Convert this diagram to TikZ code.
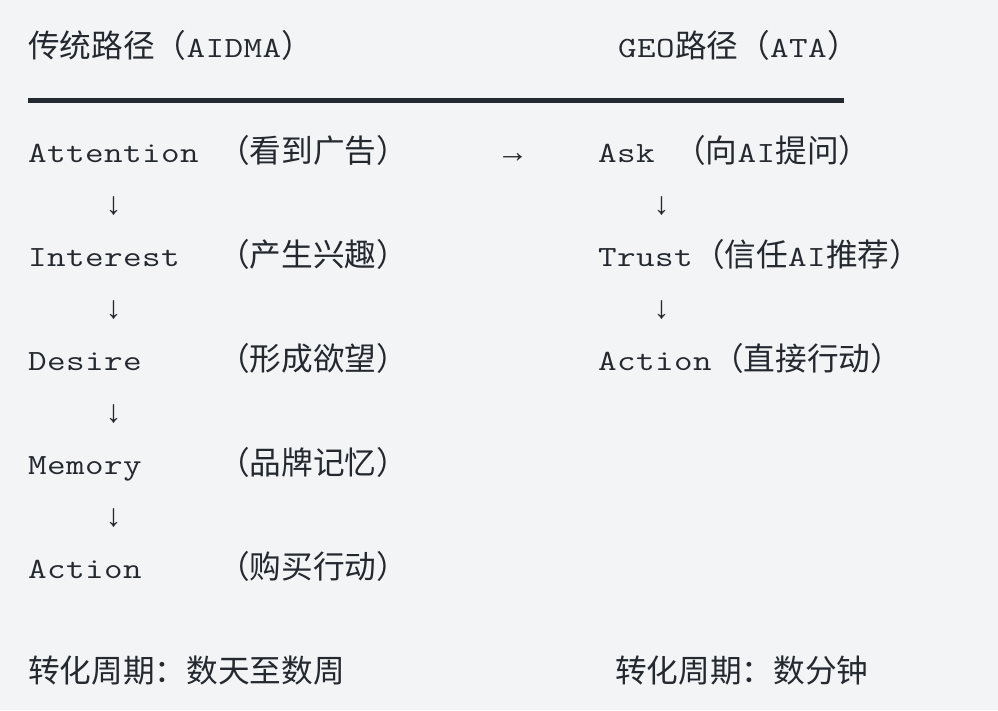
\documentclass[tikz,border=0pt]{standalone}
\usepackage{fontspec}
\setmainfont{Liberation Mono}
\newfontfamily\monof[FakeStretch=1.23]{Latin Modern Mono}
\newfontfamily\arrf{Liberation Mono}
\newfontfamily\cjk{Noto Sans CJK SC}
\definecolor{bg}{HTML}{F3F4F6}
\definecolor{ink}{HTML}{24292F}
\newcommand\mcell[1]{\makebox[14.25pt][c]{#1}}
\def\mt#1{\mtloop#1\relax}
\def\mtloop#1{\ifx#1\relax\else\mcell{#1}\expandafter\mtloop\fi}
\newcommand\cj[1]{{\fontsize{23.75pt}{28pt}\selectfont\cjk #1}}
\begin{document}
\begin{tikzpicture}[x=0.75pt,y=-0.75pt,
  txt/.style={anchor=base west,inner sep=0pt,outer sep=0pt,text=ink,font=\fontsize{22pt}{28pt}\selectfont\monof},
  ctxt/.style={txt,font=\fontsize{23.75pt}{28pt}\selectfont\cjk},
  atxt/.style={txt,font=\fontsize{23.75pt}{28pt}\selectfont\arrf}]
\fill[bg] (0,0) rectangle (998,710);
\useasboundingbox (0,0) rectangle (998,710);
% headers
\node[txt] (hL) at (28,58) {\cj{传统路径（}\mt{AIDMA}\cj{）}};
\node[txt] (hR) at (618,58) {\mt{GEO}\cj{路径（}\mt{ATA}\cj{）}};
% rule
\coordinate (r1) at (28,100);
\coordinate (r2) at (844,100);
\draw[ink,line width=3.75pt] (r1) -- (r2);
% left column
\node[txt] (l1) at (28,162) {\mt{Attention}};
\node[ctxt] (l1c) at (218,162) {（看到广告）};
\node[atxt] (d1) at (104,214) {↓};
\node[txt] (l2) at (28,266) {\mt{Interest}};
\node[ctxt] (l2c) at (218,266) {（产生兴趣）};
\node[atxt] (d2) at (104,318) {↓};
\node[txt] (l3) at (28,370) {\mt{Desire}};
\node[ctxt] (l3c) at (218,370) {（形成欲望）};
\node[atxt] (d3) at (104,422) {↓};
\node[txt] (l4) at (28,474) {\mt{Memory}};
\node[ctxt] (l4c) at (218,474) {（品牌记忆）};
\node[atxt] (d4) at (104,526) {↓};
\node[txt] (l5) at (28,578) {\mt{Action}};
\node[ctxt] (l5c) at (218,578) {（购买行动）};
% middle arrow
\node[atxt] (mid) at (503,162) {→};
% right column
\node[txt] (r1n) at (598,162) {\mt{Ask}};
\node[txt] (r1c) at (674,162) {\cj{（向}\mt{AI}\cj{提问）}};
\node[atxt] (e1) at (652,214) {↓};
\node[txt] (r2n) at (598,266) {\mt{Trust}};
\node[txt] (r2c) at (693,266) {\cj{（信任}\mt{AI}\cj{推荐）}};
\node[atxt] (e2) at (652,318) {↓};
\node[txt] (r3n) at (598,370) {\mt{Action}};
\node[ctxt] (r3c) at (712,370) {（直接行动）};
% footers
\node[ctxt] (fL) at (28,682) {转化周期：数天至数周};
\node[ctxt] (fR) at (615,682) {转化周期：数分钟};
\end{tikzpicture}
\end{document}
